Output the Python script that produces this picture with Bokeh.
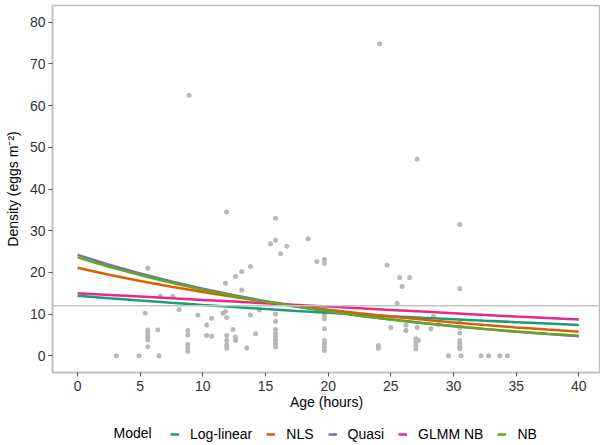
from bokeh.plotting import figure
from bokeh.layouts import column
from bokeh.models import Legend, LegendItem, Range1d, FixedTicker, Span, Label
from bokeh.embed import file_html
from bokeh.resources import INLINE

# ---------------- data ----------------
pt_age = [3.1, 4.9, 6.5, 5.4, 5.6, 5.6, 5.6, 5.6, 5.6, 5.6, 5.6, 6.4, 6.6, 7.6, 8.1,
          8.8, 8.8, 8.8, 8.8, 8.8, 8.9, 9.6, 10.3, 10.3, 10.7, 10.7, 11.6, 11.8, 11.9,
          11.8, 11.9, 11.9, 11.9, 11.9, 11.9, 12.4, 12.6, 12.6, 12.6, 13.1, 13.1, 13.5,
          13.8, 13.8, 14.2, 14.5, 15.4, 15.8, 15.8, 16.2, 16.7,
          15.8, 15.8, 15.8, 15.8, 15.8, 15.8, 15.8, 15.8,
          18.4, 19.1, 19.7, 19.7,
          19.7, 19.7, 19.7, 19.7, 19.7, 19.7, 19.7,
          24.0, 24.0, 24.1, 24.7, 25.0, 25.5, 25.7, 26.5, 25.9, 26.2, 26.2,
          27.1, 27.1, 27.0, 27.2, 27.0, 27.0, 27.0,
          28.2, 28.4, 28.8,
          29.6, 30.6, 32.2, 32.8, 33.7, 34.3,
          30.5, 30.5, 30.5, 30.5, 30.5, 30.5, 30.5, 30.5, 30.5]
pt_density = [0, 0, 0, 10.2, 6.2, 5.6, 5.0, 4.5, 3.8, 2.2, 21.0, 6.2, 14.3, 14.3, 11.1,
              6.1, 5.0, 2.7, 1.9, 1.1, 62.5, 9.8, 7.4, 4.9, 9.0, 4.7, 10.2, 10.6, 9.2,
              17.4, 34.5, 4.9, 3.7, 2.6, 1.8, 6.3, 19.0, 4.5, 3.7, 20.2, 15.8, 1.9,
              21.4, 9.8, 5.3, 11.0, 26.9, 27.7, 33.0, 24.5, 26.3,
              10.0, 8.3, 6.3, 5.3, 4.5, 3.7, 2.9, 2.1,
              28.1, 22.6, 23.1, 22.2,
              9.8, 8.9, 6.5, 3.7, 2.9, 2.1, 1.3,
              2.5, 1.8, 74.8, 21.8, 6.8, 12.6, 18.8, 18.8, 16.6, 7.3, 6.1,
              47.2, 6.8, 4.1, 3.7, 3.3, 2.5, 1.7,
              6.5, 9.4, 7.5,
              0, 0, 0, 0, 0, 0,
              31.5, 16.1, 8.2, 6.8, 5.5, 3.7, 2.9, 2.1, 1.7]

curve_age = [0, 2.5, 5, 7.5, 10, 12.5, 15, 17.5, 20, 22.5, 25, 27.5, 30, 32.5, 35, 37.5, 40]
loglinear = [14.4, 13.81, 13.25, 12.71, 12.19, 11.70, 11.22, 10.76, 10.33, 9.91, 9.50,
             9.12, 8.78, 8.42, 8.07, 7.73, 7.40]
nls = [21.1, 19.46, 17.95, 16.56, 15.28, 14.09, 13.0, 11.99, 11.06, 10.20, 9.41,
       8.68, 8.01, 7.39, 6.81, 6.29, 5.80]
quasi = [24.2, 21.85, 19.72, 17.80, 16.07, 14.51, 13.10, 11.82, 10.67, 9.63, 8.70,
         7.85, 7.09, 6.40, 5.77, 5.21, 4.70]
glmm_nb = [15.0, 14.6, 14.2, 13.8, 13.4, 13.0, 12.6, 12.2, 11.8, 11.4, 11.0,
           10.6, 10.2, 9.8, 9.4, 9.05, 8.7]
nb = [23.6, 21.36, 19.34, 17.50, 15.84, 14.34, 12.98, 11.75, 10.64, 9.63, 8.71,
      7.89, 7.14, 6.46, 5.85, 5.30, 4.80]

model_names = ["Log-linear", "NLS", "Quasi", "GLMM NB", "NB"]
model_values = [loglinear, nls, quasi, glmm_nb, nb]
model_colors = ["#1B9E77", "#D95F02", "#7570B3", "#E7298A", "#66A61E"]

legend_title = "Model"
mean_density = 12.0
x_ticks = [0, 5, 10, 15, 20, 25, 30, 35, 40]
y_ticks = [0, 10, 20, 30, 40, 50, 60, 70, 80]

# ---------------- main figure ----------------
FONT = "Liberation Sans"
W = 600
H_MAIN = 418
H_LEG = 27
LEFT = 52

p = figure(width=W, height=H_MAIN, output_backend="svg", toolbar_location=None,
           x_range=Range1d(-2, 41.73), y_range=Range1d(-4, 84),
           min_border_left=LEFT, min_border_right=0, min_border_top=5,
           min_border_bottom=46)
p.background_fill_color = "white"
p.border_fill_color = "white"
p.outline_line_color = "#bdbdbd"
p.outline_line_width = 1.5
p.xgrid.visible = False
p.ygrid.visible = False

for ax, ticks in ((p.xaxis[0], x_ticks), (p.yaxis[0], y_ticks)):
    ax.ticker = FixedTicker(ticks=ticks)
    ax.axis_line_color = "#bdbdbd"
    ax.axis_line_width = 1.5
    ax.major_tick_line_color = "#555555"
    ax.major_tick_in = 0
    ax.major_tick_out = 4
    ax.minor_tick_line_color = None
    ax.major_label_text_font = FONT
    ax.major_label_text_font_size = "14px"
    ax.major_label_text_color = "#333333"
    ax.axis_label_text_font = FONT
    ax.axis_label_text_font_size = "14px"
    ax.axis_label_text_font_style = "normal"
    ax.axis_label_text_color = "#000000"

p.xaxis.axis_label = "Age (hours)"
p.yaxis.axis_label = "Density (eggs m\u207b\u00b2)"
p.xaxis.major_label_standoff = 4
p.xaxis.axis_label_standoff = 0
p.yaxis.major_label_standoff = 3
p.yaxis.axis_label_standoff = 6

p.add_layout(Span(location=mean_density, dimension="width", line_color="#c4c4c4",
                  line_width=1.5))

p.scatter(pt_age, pt_density, size=5, color="#b8b8b8", line_color=None)

for vals, col in zip(model_values, model_colors):
    p.line(curve_age, vals, line_color=col, line_width=2.5)

# ---------------- legend strip (its frame is aligned with the main frame) ----------------
q = figure(width=W, height=H_LEG, output_backend="svg", toolbar_location=None,
           x_range=Range1d(LEFT, W), y_range=Range1d(0, H_LEG),
           x_axis_type=None, y_axis_type=None,
           min_border_left=LEFT, min_border_right=0, min_border_top=0, min_border_bottom=0)
q.outline_line_color = None
q.xgrid.visible = False
q.ygrid.visible = False
q.background_fill_color = "white"
q.border_fill_color = "white"

items = []
for name, vals, col in zip(model_names, model_values, model_colors):
    # same curves, lying outside this strip's view: only their legend keys show
    r = q.line(curve_age, vals, line_color=col, line_width=2.5)
    items.append(LegendItem(label=name, renderers=[r]))

legend = Legend(items=items, orientation="horizontal", location=(170 - LEFT, 3))
legend.label_text_font = FONT
legend.label_text_font_size = "14px"
legend.label_text_color = "#000000"
legend.glyph_width = 9
legend.glyph_height = 14
legend.label_standoff = 11
legend.spacing = 14
legend.padding = 0
legend.margin = 0
legend.border_line_color = None
legend.background_fill_alpha = 0
q.add_layout(legend, "center")

q.add_layout(Label(x=113, y=13, text=legend_title, text_font=FONT,
                   text_font_size="14px", text_baseline="middle",
                   text_align="left", text_color="#000000"))

open("out.html", "w").write(file_html(column(p, q, spacing=0), INLINE))
